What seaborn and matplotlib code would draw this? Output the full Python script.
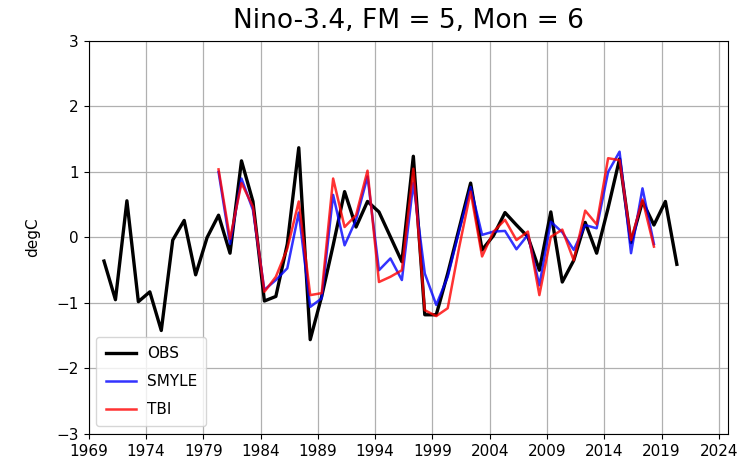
import numpy as np
import pandas as pd
import matplotlib
matplotlib.use("Agg")
import matplotlib.pyplot as plt
import seaborn as sns

# Observed Nino-3.4 anomalies (degC), 1970-2020
obs_years = list(range(1970, 2021))
obs = [-0.36, -0.95, 0.56, -0.98, -0.83, -1.42, -0.04, 0.26, -0.57, 0.00,
       0.34, -0.24, 1.17, 0.55, -0.97, -0.90, -0.10, 1.37, -1.56, -0.90,
       -0.12, 0.70, 0.16, 0.55, 0.39, 0.01, -0.37, 1.24, -1.18, -1.18,
       -0.55, 0.14, 0.83, -0.19, 0.03, 0.38, 0.19, 0.01, -0.50, 0.39,
       -0.68, -0.35, 0.23, -0.24, 0.45, 1.20, -0.08, 0.55, 0.19, 0.55,
       -0.41]

# Hindcasts, 1980-2018
fc_years = list(range(1980, 2019))
smyle = [1.00, -0.10, 0.90, 0.42, -0.80, -0.65, -0.47, 0.38, -1.06, -0.93,
         0.65, -0.12, 0.27, 0.93, -0.50, -0.32, -0.65, 0.83, -0.55, -1.03,
         -0.60, 0.10, 0.77, 0.04, 0.09, 0.10, -0.18, 0.04, -0.73, 0.24,
         0.08, -0.19, 0.19, 0.14, 1.00, 1.31, -0.24, 0.75, -0.10]
tbi = [1.04, -0.02, 0.83, 0.47, -0.83, -0.60, -0.17, 0.55, -0.88, -0.85,
       0.90, 0.16, 0.34, 1.02, -0.68, -0.60, -0.50, 1.05, -1.11, -1.20,
       -1.08, -0.15, 0.70, -0.29, 0.09, 0.27, -0.04, 0.09, -0.88, 0.01,
       0.12, -0.35, 0.41, 0.20, 1.21, 1.18, -0.04, 0.58, -0.14]

xticks = list(range(1969, 2025, 5))
yticks = [-3, -2, -1, 0, 1, 2, 3]

# target month (Mon = 6) sits part-way through each year
month_offset = 4 / 12

df_obs = pd.DataFrame({"time": np.array(obs_years) + month_offset, "val": obs})
df_smyle = pd.DataFrame({"time": np.array(fc_years) + month_offset, "val": smyle})
df_tbi = pd.DataFrame({"time": np.array(fc_years) + month_offset, "val": tbi})

plt.rcParams["font.family"] = ["DejaVu Sans"]

fig = plt.figure(figsize=(7.48, 4.65), dpi=100)
ax = fig.add_axes([0.1186, 0.0667, 0.8547, 0.8452])

sns.lineplot(data=df_obs, x="time", y="val", color="black", linewidth=2.4,
             label="OBS", ax=ax)
sns.lineplot(data=df_smyle, x="time", y="val", color="blue", linewidth=1.8,
             alpha=0.8, label="SMYLE", ax=ax)
sns.lineplot(data=df_tbi, x="time", y="val", color="red", linewidth=1.8,
             alpha=0.8, label="TBI", ax=ax)

ax.set_xlim(1969, 2024.8)
ax.set_ylim(-3, 3)
ax.set_xticks(xticks)
ax.set_yticks(yticks)
ax.tick_params(labelsize=11)
ax.grid(True, color="#b0b0b0", linewidth=0.9)
ax.set_axisbelow(True)
ax.set_xlabel("")
ax.set_ylabel("degC", fontsize=11, labelpad=12)
ax.set_title("Nino-3.4, FM = 5, Mon = 6", fontsize=19, pad=9)
for s in ax.spines.values():
    s.set_color("black")
ax.legend(loc="lower left", fontsize=11, handlelength=2.0,
          labelspacing=0.85, borderpad=0.6, handletextpad=0.7)

fig.savefig("out.png", dpi=100)
